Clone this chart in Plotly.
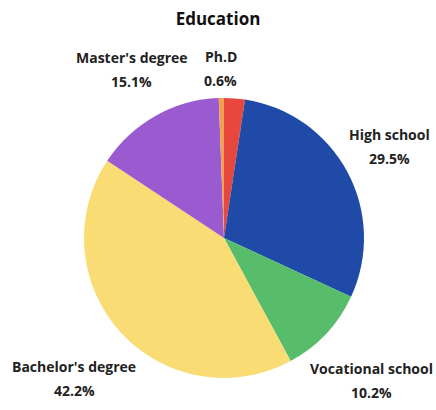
import math
import plotly.graph_objects as go

labels = ["Primary school", "High school", "Vocational school", "Bachelor's degree", "Master's degree", "Ph.D"]
values = [2.4, 29.5, 10.2, 42.2, 15.1, 0.6]
colors = ["#e8473d", "#1f4aa8", "#58bd6a", "#f9dc74", "#9a5bd0", "#f0a050"]
show_label = [False, True, True, True, True, True]

W, H = 436, 410
ML, MR, MT, MB = 84, 72, 98, 32
D = min(W - ML - MR, H - MT - MB)
R = D / 2
CX = ML + (W - ML - MR) / 2
CY = MT + (H - MT - MB) / 2
GAP = 8
CHAR_W = 7.3
HALF_H = 21
LINE_SEP = 24
RX = R - 5
RY = R

fig = go.Figure(go.Pie(
    labels=labels,
    values=values,
    textinfo="none",
    sort=False,
    direction="clockwise",
    rotation=0,
    marker=dict(colors=colors, line=dict(width=0)),
    hoverinfo="label+percent",
    showlegend=False,
))

font = dict(family="Open Sans", size=14, color="#222222")


def to_paper(px, py):
    return (px - ML) / (W - ML - MR), (H - MB - py) / (H - MT - MB)


total = sum(values)
cum = 0.0
annotations = []
for lab, val, show in zip(labels, values, show_label):
    mid = (cum + val / 2) / total * 2 * math.pi
    cum += val
    if not show:
        continue
    ux, uy = math.sin(mid), math.cos(mid)
    pct = f"{val:.1f}%"
    hw = max(len(lab), len(pct)) * CHAR_W / 2
    ext = abs(ux) * hw + abs(uy) * HALF_H
    px = CX + ux * (RX + GAP + ext)
    py = CY - uy * (RY + GAP + ext)
    for txt, dy in ((lab, -LINE_SEP / 2), (pct, LINE_SEP / 2)):
        x, y = to_paper(px, py + dy)
        annotations.append(dict(
            x=x, y=y, xref="paper", yref="paper",
            xanchor="center", yanchor="middle",
            text=f"<b>{txt}</b>", showarrow=False, font=font,
        ))

fig.update_layout(
    width=W,
    height=H,
    margin=dict(l=ML, r=MR, t=MT, b=MB),
    title=dict(text="<b>Education</b>", x=0.5, xanchor="center", y=0.953, yanchor="middle",
               font=dict(family="Open Sans", size=17, color="#111111")),
    annotations=annotations,
    paper_bgcolor="white",
    plot_bgcolor="white",
)

fig.write_html("out.html")
